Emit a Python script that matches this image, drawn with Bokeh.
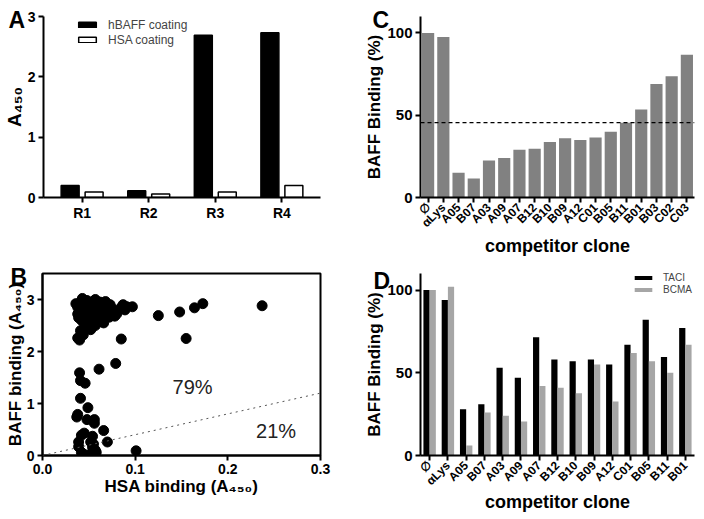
import math
from bokeh.plotting import figure
from bokeh.models import (ColumnDataSource, FactorRange, Range1d, Label, Legend,
                          LegendItem, FixedTicker, Span, Slope, NumeralTickFormatter,
                          Title)
from bokeh.layouts import column, row
from bokeh.transform import dodge
from bokeh.embed import file_html
from bokeh.resources import INLINE

# ---------------- data ----------------
# Panel A
a_rounds = ["R1", "R2", "R3", "R4"]
a_hbaff = [0.20, 0.11, 2.69, 2.73]
a_hsa = [0.09, 0.06, 0.09, 0.20]

# Panel B
b_hsa = [0.036, 0.038, 0.038, 0.039, 0.040, 0.040, 0.041, 0.042, 0.042, 0.043,
         0.043, 0.044, 0.045, 0.045, 0.046, 0.046, 0.047, 0.048, 0.048, 0.049,
         0.050, 0.050, 0.051, 0.052, 0.052, 0.053, 0.054, 0.055, 0.055, 0.056,
         0.057, 0.058, 0.058, 0.059, 0.060, 0.061, 0.062, 0.063, 0.064, 0.065,
         0.066, 0.067, 0.068, 0.069, 0.070, 0.071, 0.072, 0.073, 0.074, 0.075,
         0.076, 0.078, 0.080, 0.041, 0.044, 0.038, 0.040, 0.042, 0.047, 0.053,
         0.057, 0.062, 0.066, 0.087, 0.089, 0.091, 0.097, 0.085,
         0.085, 0.125, 0.148, 0.164, 0.173, 0.237, 0.155, 0.079, 0.061,
         0.040, 0.041, 0.046, 0.041, 0.049, 0.038, 0.037, 0.048, 0.056, 0.056,
         0.066, 0.045, 0.042, 0.054, 0.070, 0.039, 0.039, 0.052, 0.054, 0.057,
         0.058, 0.042, 0.052, 0.045, 0.101, 0.055]
b_baff = [2.92, 2.85, 2.72, 2.65, 2.78, 2.70, 2.95, 2.88, 2.60, 3.02,
          2.75, 2.68, 2.82, 2.55, 2.92, 2.48, 2.72, 2.98, 2.62, 2.85,
          2.78, 2.52, 2.68, 2.90, 2.42, 2.74, 2.60, 2.84, 2.97, 2.70,
          2.50, 2.80, 2.64, 2.92, 2.73, 2.58, 2.86, 2.78, 2.68, 2.62,
          2.82, 2.74, 2.96, 2.88, 2.70, 2.80, 2.66, 2.90, 2.76, 2.83,
          2.70, 2.68, 2.72, 2.40, 2.32, 2.26, 2.22, 2.30, 2.45, 2.45,
          3.00, 2.95, 2.55, 2.90, 2.80, 2.86, 2.86, 2.85,
          2.24, 2.69, 2.76, 2.84, 2.92, 2.88, 2.25, 1.77, 1.66,
          1.59, 1.44, 1.39, 1.10, 0.92, 0.79, 0.74, 0.69, 0.69, 0.62,
          0.48, 0.43, 0.39, 0.37, 0.26, 0.26, 0.17, 0.26, 0.16, 0.10,
          0.06, 0.06, 0.03, 0.02, 0.09, 0.22]
b_cutoff_slope = 4.0
b_pct_text = ["79%", "21%"]

# Panel C
c_clones = ["\u2205", "\u03b1Lys", "A05", "B07", "A03", "A09", "A07", "B12", "B10",
            "B09", "A12", "C01", "B05", "B11", "B01", "B03", "C02", "C03"]
c_binding = [100, 97.5, 15, 11.5, 22.5, 24, 29, 29.7, 33.7, 36, 35, 36.4, 40,
             45.4, 53.5, 69, 73.7, 86.7]
c_threshold = 45.5

# Panel D
d_clones = ["\u2205", "\u03b1Lys", "A05", "B07", "A03", "A09", "A07", "B12", "B10",
            "B09", "A12", "C01", "B05", "B11", "B01"]
d_taci = [100, 94, 28, 31, 53, 47, 71.5, 58, 57, 58, 55, 67, 82, 59.5, 77]
d_bcma = [100, 102, 6, 26, 24, 20.5, 42, 41, 37.6, 55, 32.7, 62, 57, 50, 67]

FONT = "Liberation Sans"

# shared borders per row / column (Bokeh aligns frames inside rows and columns)
ROW1 = dict(min_border_top=16, min_border_bottom=60)
ROW2 = dict(min_border_top=15, min_border_bottom=62)
COL1 = dict(min_border_left=42, min_border_right=38)
COL2 = dict(min_border_left=62, min_border_right=8)


def style(p, tick_size="14px", title_size="17px"):
    p.grid.grid_line_color = None
    p.outline_line_color = None
    p.background_fill_color = "white"
    p.border_fill_color = "white"
    for ax in p.axis:
        ax.axis_line_width = 2
        ax.axis_line_color = "black"
        ax.major_tick_line_width = 2
        ax.major_tick_line_color = "black"
        ax.major_tick_out = 5
        ax.major_tick_in = 0
        ax.minor_tick_line_color = None
        ax.major_label_text_font = FONT
        ax.major_label_text_font_style = "bold"
        ax.major_label_text_font_size = tick_size
        ax.major_label_text_color = "black"
        ax.major_label_standoff = 3
        ax.axis_label_text_font = FONT
        ax.axis_label_text_font_style = "bold"
        ax.axis_label_text_font_size = title_size
        ax.axis_label_text_color = "black"
        ax.axis_label_standoff = 0


def letter(p, txt, offset, standoff):
    p.add_layout(Title(text=txt, align="left", offset=offset, standoff=standoff,
                       vertical_align="bottom", text_font=FONT,
                       text_font_style="bold", text_font_size="23px",
                       text_color="black"), "above")


# ---------------- Panel A ----------------
srcA = ColumnDataSource(dict(r=a_rounds, hbaff=a_hbaff, hsa=a_hsa))
pA = figure(width=358, height=258, x_range=FactorRange(*a_rounds, range_padding=0.04),
            y_range=Range1d(0, 3), output_backend="svg", toolbar_location=None,
            title=None, **ROW1, **COL1)
rA1 = pA.vbar(x=dodge("r", -0.18, range=pA.x_range), top="hbaff", width=0.27,
              source=srcA, fill_color="black", line_color="black", line_width=1.5)
rA2 = pA.vbar(x=dodge("r", 0.18, range=pA.x_range), top="hsa", width=0.27,
              source=srcA, fill_color="white", line_color="black", line_width=1.5)
style(pA)
pA.yaxis.ticker = FixedTicker(ticks=[0, 1, 2, 3])
pA.xaxis.major_label_standoff = 2
pA.yaxis.axis_label = "A\u2084\u2085\u2080"
pA.yaxis.axis_label_text_font_size = "19px"
legA = Legend(items=[LegendItem(label="hBAFF coating", renderers=[rA1]),
                     LegendItem(label="HSA coating", renderers=[rA2])],
              location=(33, 150), glyph_width=22, glyph_height=7, label_height=15,
              spacing=0, padding=0, margin=0, label_standoff=10,
              label_text_font=FONT, label_text_font_size="12px",
              border_line_color=None, background_fill_alpha=0)
pA.add_layout(legA)
letter(pA, "A", -35, -32)

# ---------------- Panel C ----------------
srcC = ColumnDataSource(dict(c=c_clones, v=c_binding))
pC = figure(width=344, height=258, x_range=FactorRange(*c_clones),
            y_range=Range1d(0, 110), output_backend="svg", toolbar_location=None,
            title=None, **ROW1, **COL2)
pC.vbar(x="c", top="v", width=0.8, source=srcC, fill_color="#818181",
        line_color=None)
pC.add_layout(Span(location=c_threshold, dimension="width", line_color="black",
                   line_width=1.2, line_dash="4 3"))
style(pC, tick_size="15px")
pC.yaxis.ticker = FixedTicker(ticks=[0, 50, 100])
pC.xaxis.major_label_orientation = math.pi / 4
pC.xaxis.major_label_text_font_size = "12px"
pC.yaxis.axis_label = "BAFF Binding (%)"
pC.xaxis.axis_label = "competitor clone"
pC.xaxis.axis_label_text_font_size = "18px"
pC.xaxis.axis_label_standoff = -2
letter(pC, "C", -48, -32)

# ---------------- Panel B ----------------
pB = figure(width=358, height=259, x_range=Range1d(0, 0.3), y_range=Range1d(0, 3.5),
            output_backend="svg", toolbar_location=None, title=None,
            **ROW2, **COL1)
pB.add_layout(Slope(gradient=b_cutoff_slope, y_intercept=0, line_color="#555555",
                    line_width=1, line_dash="dotted"))
pB.scatter(b_hsa, b_baff, size=10, fill_color="black", line_color="black")
style(pB, tick_size="14px")
pB.outline_line_color = "black"
pB.outline_line_width = 2
pB.xaxis.ticker = FixedTicker(ticks=[0, 0.1, 0.2, 0.3])
pB.xaxis.formatter = NumeralTickFormatter(format="0.0")
pB.yaxis.ticker = FixedTicker(ticks=[0, 1, 2, 3])
pB.yaxis.axis_label = "BAFF binding (A\u2084\u2085\u2080)"
pB.xaxis.axis_label = "HSA binding (A\u2084\u2085\u2080)"
pB.yaxis.axis_label_standoff = -1
for txt, xx, yy in zip(b_pct_text, [0.162, 0.252], [1.32, 0.48]):
    pB.add_layout(Label(x=xx, y=yy, text=txt, text_font=FONT, text_font_size="20px",
                        text_align="center", text_baseline="middle",
                        text_color="#222222"))
letter(pB, "B", -32, -32)

# ---------------- Panel D ----------------
srcD = ColumnDataSource(dict(c=d_clones, taci=d_taci, bcma=d_bcma))
pD = figure(width=344, height=259, x_range=FactorRange(*d_clones),
            y_range=Range1d(0, 110), output_backend="svg", toolbar_location=None,
            title=None, **ROW2, **COL2)
rD1 = pD.vbar(x=dodge("c", -0.17, range=pD.x_range), top="taci", width=0.34,
              source=srcD, fill_color="black", line_color=None)
rD2 = pD.vbar(x=dodge("c", 0.17, range=pD.x_range), top="bcma", width=0.34,
              source=srcD, fill_color="#a6a6a6", line_color=None)
style(pD, tick_size="15px")
pD.yaxis.ticker = FixedTicker(ticks=[0, 50, 100])
pD.xaxis.major_label_orientation = math.pi / 4
pD.xaxis.major_label_text_font_size = "12px"
pD.yaxis.axis_label = "BAFF Binding (%)"
pD.xaxis.axis_label = "competitor clone"
pD.xaxis.axis_label_text_font_size = "18px"
pD.xaxis.axis_label_standoff = -4
legD = Legend(items=[LegendItem(label="TACI", renderers=[rD1]),
                     LegendItem(label="BCMA", renderers=[rD2])],
              location=(212, 160), glyph_width=22, glyph_height=5, label_height=12,
              spacing=0, padding=0, margin=0, label_standoff=9,
              label_text_font=FONT, label_text_font_size="10px",
              border_line_color=None, background_fill_alpha=0)
pD.add_layout(legD)
letter(pD, "D", -47, -40)

layout = column(row(pA, pC), row(pB, pD))
open("out.html", "w").write(file_html(layout, INLINE))
